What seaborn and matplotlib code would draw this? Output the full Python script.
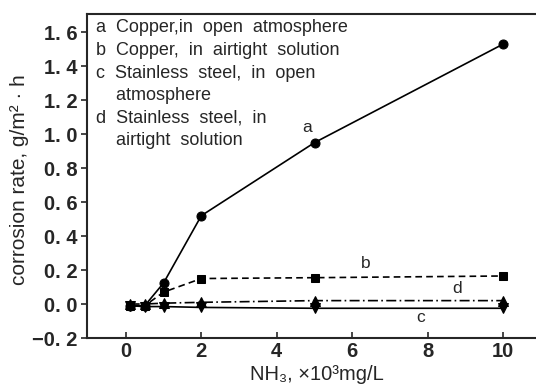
import matplotlib
matplotlib.use("Agg")
import matplotlib.pyplot as plt
import seaborn as sns
import pandas as pd

nh3 = [0.1, 0.5, 1, 2, 5, 10]
copper_open = [-0.01, -0.01, 0.124, 0.52, 0.95, 1.53]
copper_airtight = [-0.01, -0.01, 0.07, 0.15, 0.155, 0.165]
steel_open = [-0.01, -0.015, -0.015, -0.02, -0.025, -0.025]
steel_airtight = [0.0, 0.0, 0.005, 0.01, 0.02, 0.02]
curve_labels = ["a", "b", "c", "d"]
legend_lines = ["a  Copper,in  open  atmosphere",
                "b  Copper,  in  airtight  solution",
                "c  Stainless  steel,  in  open",
                "    atmosphere",
                "d  Stainless  steel,  in",
                "    airtight  solution"]
yticks = [-0.2, 0.0, 0.2, 0.4, 0.6, 0.8, 1.0, 1.2, 1.4, 1.6]
ytick_labels = ["\u22120. 2", "0. 0", "0. 2", "0. 4", "0. 6", "0. 8", "1. 0", "1. 2", "1. 4", "1. 6"]
xticks = [0, 2, 4, 6, 8, 10]

sns.set_style("ticks")
plt.rcParams['font.family'] = ['Liberation Sans', 'DejaVu Sans']

fig = plt.figure(figsize=(5.36, 3.87), dpi=100)
ax = fig.add_axes([87/536, 1-338/387, 1-87/536, (338-14)/387])

series = [
    (copper_open, "-", "o", 6.5),
    (copper_airtight, (0, (4, 2.5)), "s", 6),
    (steel_open, "-", "v", 7),
    (steel_airtight, (0, (6, 2, 1, 2)), "^", 7),
]
for vals, ls, mk, ms in series:
    df = pd.DataFrame({"x": nh3, "y": vals})
    sns.lineplot(data=df, x="x", y="y", ax=ax, color="black", linestyle=ls,
                 marker=mk, markersize=ms, markeredgecolor="black",
                 markerfacecolor="black", linewidth=1.2)

ax.set_xlim(-1.03, 10.87)
ax.set_ylim(-0.2, 1.707)
ax.set_xticks(xticks)
ax.set_xticklabels([str(t) for t in xticks])
ax.set_yticks(yticks)
ax.set_yticklabels(ytick_labels)
ax.tick_params(axis="x", direction="in", length=4, width=1.2, labelsize=14.5, pad=3)
ax.tick_params(axis="y", direction="out", length=4, width=1.2, labelsize=14.5, pad=3)
for lbl in ax.get_xticklabels() + ax.get_yticklabels():
    lbl.set_fontweight("bold")
for s in ["left", "bottom", "top"]:
    ax.spines[s].set_linewidth(1.5)
ax.spines["right"].set_visible(False)
ax.spines["top"].set_visible(True)

ax.set_xlabel("NH\u2083, \u00d710\u00b3mg/L", fontsize=14.5)
ax.xaxis.set_label_coords((317 - 87) / 449, -(374 - 338) / 324)
ax.xaxis.label.set_va("center")
ax.set_ylabel("corrosion rate, g/m\u00b2 \u00b7 h", fontsize=15)
ax.yaxis.set_label_coords((20 - 87) / 449, (338 - 180) / 324)
ax.yaxis.label.set_va("center")

pos = [(4.8, 1.04), (6.36, 0.24), (7.8, -0.08), (8.78, 0.09)]
for lab, (px, py) in zip(curve_labels, pos):
    ax.text(px, py, lab, fontsize=12.5, ha="center", va="center")

y0 = 28
for i, line in enumerate(legend_lines):
    fig.text(96/536, 1 - (y0 + i*22.5)/387, line, fontsize=13, ha="left", va="center")

fig.savefig("out.png", dpi=100)
